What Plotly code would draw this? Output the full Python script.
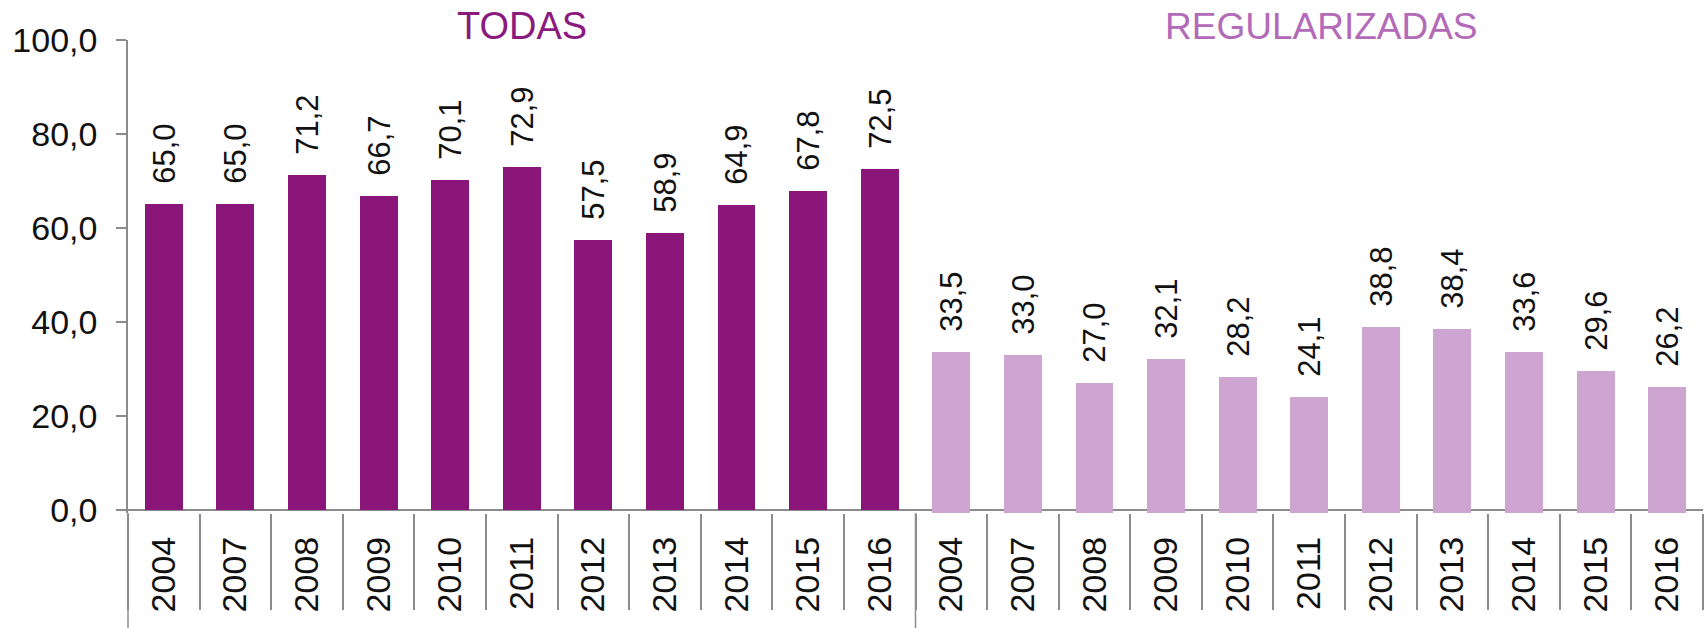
import plotly.graph_objects as go

groups = ["TODAS", "REGULARIZADAS"]
years = ["2004", "2007", "2008", "2009", "2010", "2011", "2012", "2013", "2014", "2015", "2016"]
todas = [65.0, 65.0, 71.2, 66.7, 70.1, 72.9, 57.5, 58.9, 64.9, 67.8, 72.5]
regularizadas = [33.5, 33.0, 27.0, 32.1, 28.2, 24.1, 38.8, 38.4, 33.6, 29.6, 26.2]
y_ticks = [0, 20, 40, 60, 80, 100]

DARK = "#8B1679"
LIGHT = "#CEA5D1"
TITLE_DARK = "#8B1A7F"
TITLE_LIGHT = "#B36AB8"
AXIS = "#8C8C8C"
FONT = "Liberation Sans, Arial, sans-serif"

n1 = len(todas)
n2 = len(regularizadas)
ntot = n1 + n2
x1 = list(range(n1))
x2 = list(range(n1, ntot))
all_years = years + years
lab = lambda v: "\u00a0\u00a0" + f"{v:.1f}".replace(".", ",")

fig = go.Figure()
fig.add_trace(go.Bar(
    x=x1, y=todas, marker=dict(color=DARK, line=dict(width=0)),
    width=0.53, text=[lab(v) for v in todas], textposition="outside",
    textangle=-90, constraintext="none",
    textfont=dict(family=FONT, size=31, color="#111111"),
    cliponaxis=False, showlegend=False, hoverinfo="skip"))
fig.add_trace(go.Bar(
    x=x2, y=[v + 0.7 for v in regularizadas], base=-0.7,
    marker=dict(color=LIGHT, line=dict(width=0)),
    width=0.53, text=[lab(v) for v in regularizadas], textposition="outside",
    textangle=-90, constraintext="none",
    textfont=dict(family=FONT, size=31, color="#111111"),
    cliponaxis=False, showlegend=False, hoverinfo="skip"))

xr = [-0.5, ntot - 0.5]
fig.update_layout(
    width=1708, height=628,
    margin=dict(l=128, r=5, t=40, b=115, autoexpand=False),
    paper_bgcolor="white", plot_bgcolor="white",
    separators=",.",
    font=dict(family=FONT, color="#111111"),
    bargap=0,
    xaxis=dict(
        range=xr, tickmode="array", tickvals=list(range(ntot)), ticktext=all_years,
        tickangle=-90, ticks="", showline=False, showgrid=False, zeroline=False,
        tickfont=dict(family=FONT, size=34, color="#111111"),
        ticklabelstandoff=16, automargin=False,
    ),
    xaxis2=dict(
        range=xr, overlaying="x", side="bottom", tickmode="array",
        tickvals=[i - 0.5 for i in range(ntot + 1)],
        ticks="outside", ticklen=96, tickwidth=1.5, tickcolor=AXIS,
        showticklabels=False, showline=False, showgrid=False, zeroline=False,
        automargin=False,
    ),
    yaxis=dict(
        range=[-0.7, 100], tickmode="array", tickvals=y_ticks, tickformat=".1f",
        ticks="outside", ticklen=10, tickwidth=1.5, tickcolor=AXIS,
        showline=True, linecolor=AXIS, linewidth=1.5,
        showgrid=False, zeroline=True, zerolinecolor=AXIS, zerolinewidth=2,
        tickfont=dict(family=FONT, size=34, color="#111111"),
        ticklabelstandoff=12, automargin=False,
    ),
    annotations=[
        dict(text=groups[0], xref="paper", yref="paper", xanchor="center",
             x=(n1 / 2) / ntot, y=1, yanchor="middle", yshift=14, showarrow=False,
             font=dict(family=FONT, size=38, color=TITLE_DARK)),
        dict(text=groups[1], xref="paper", yref="paper", xanchor="center",
             x=(n1 + n2 / 2) / ntot, y=1, yanchor="middle", yshift=14, xshift=12,
             showarrow=False,
             font=dict(family=FONT, size=37, color=TITLE_LIGHT)),
    ],
    shapes=[
        dict(type="line", xref="paper", yref="paper", x0=0, x1=0, y0=0, y1=-0.4,
             line=dict(color=AXIS, width=1.5)),
        dict(type="line", xref="paper", yref="paper", x0=n1 / ntot, x1=n1 / ntot,
             y0=0, y1=-0.4, line=dict(color=AXIS, width=1.5)),
    ],
)
fig.add_trace(go.Scatter(x=[], y=[], xaxis="x2", showlegend=False))

fig.write_html(
    "out.html",
    config={"displayModeBar": False},
    post_script="document.body.style.margin='0px';document.body.style.overflow='hidden';",
)
